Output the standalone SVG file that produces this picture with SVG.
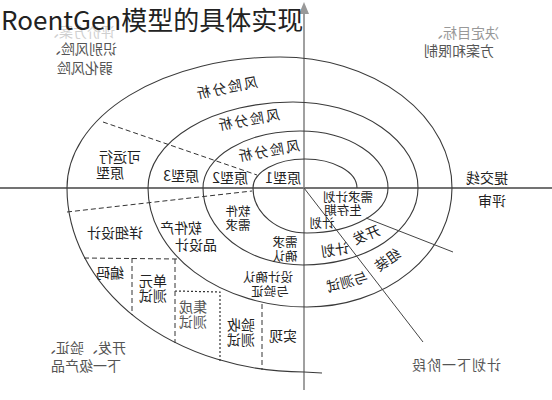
<svg xmlns="http://www.w3.org/2000/svg" width="552" height="400" viewBox="0 0 552 400">
<defs>
<style>
.t{font-family:"Noto Sans CJK SC","Noto Sans",sans-serif;font-size:14px;fill:#222;text-anchor:middle;dominant-baseline:central}
.s{font-size:12.5px}
.g{fill:#555}
.lg{fill:#999}
.sp{fill:none;stroke:#3a3a3a;stroke-width:1.1}
.ds{fill:none;stroke:#333;stroke-width:1;stroke-dasharray:5 3}
.dt{fill:none;stroke:#333;stroke-width:1.2;stroke-dasharray:2 2}
.ln{fill:none;stroke:#444;stroke-width:1}
</style>
</defs>
<rect width="552" height="400" fill="#fff"/>
<g id="connectors">
<path id="axis-h" d="M0 188 L552 188" stroke="#444" stroke-width="1.5" fill="none"/>
<path id="axis-v" d="M304 13 L304 390" stroke="#808080" stroke-width="1.5" fill="none"/>
<polygon points="304,2 299,14 309,14" fill="#999"/>
<path id="spiral" class="sp" d="M357 188 A52 29 0 0 0 305 159 A52 29 0 0 0 253 188 A54 45 0 0 0 307 233 A81 45 0 0 0 388 188 A88 57 0 0 0 300 131 A97 57 0 0 0 203 188 A100 77 0 0 0 303 265 A115 77 0 0 0 418 188 A125 86 0 0 0 293 102 A145 86 0 0 0 148 188 A159 119 0 0 0 307 307 A145 119 0 0 0 452 188 A172 131 0 0 0 280 57 A213 131 0 0 0 67 188 A237 184 0 0 0 304 372 L322 373"/>
<path class="ds" d="M103 122 L257 175"/>
<path class="ds" d="M67 212 L252 191"/>
<path class="ds" d="M84 258 L177 259"/>
<path class="ds" d="M132 258 L132 315"/>
<path class="ds" d="M175 259 L175 343"/>
<path class="dt" d="M175 291 L220 292 L220 361"/>
<path class="ds" d="M262 304 L262 370"/>
<path class="ln" d="M304 188 L423 342"/>
<path class="ln" d="M366 218 L453 252"/>
</g>
<g id="n-evaluate"><text class="t" fill="#ccc" style="fill:#cfcfcf" transform="translate(80 31) scale(-1 1)">评价方案、</text></g>
<g id="title"><text x="1" y="30" font-family="'Noto Sans CJK SC','Noto Sans',sans-serif" font-size="26" fill="#222">RoentGen模型的具体实现</text></g>
<g id="n-identify"><text class="t g" transform="translate(82 48) scale(-1 1)">识别风险、</text><text class="t g" transform="translate(85 67) scale(-1 1)">弱化风险</text></g>
<g id="n-goal"><text class="t lg" transform="translate(464 32) scale(-1 1)">决定目标、</text><text class="t g" transform="translate(459 50) scale(-1 1)">方案和限制</text></g>
<g id="n-dev"><text class="t g" transform="translate(84 347) scale(-1 1)">开发、验证、</text><text class="t g" transform="translate(86 365) scale(-1 1)">下一级产品</text></g>
<g id="n-plan-next"><text class="t g" style="letter-spacing:1px" transform="translate(456 364) scale(-1 1)">计划下一阶段</text></g>
<g id="n-submit"><text class="t" transform="translate(487 177) scale(-1 1)">提交线</text></g>
<g id="n-review"><text class="t" transform="translate(492 200) scale(-1 1)">评审</text></g>
<g id="n-risk1"><text class="t" style="letter-spacing:2px" transform="translate(226 87) rotate(-11) scale(-1 1)">风险分析</text></g>
<g id="n-risk2"><text class="t" style="letter-spacing:2px" transform="translate(248 119) rotate(-10) scale(-1 1)">风险分析</text></g>
<g id="n-risk3"><text class="t" style="letter-spacing:2px" transform="translate(268 150) rotate(-10) scale(-1 1)">风险分析</text></g>
<g id="n-proto1"><text class="t" transform="translate(283 177) scale(-1 1)">原型1</text></g>
<g id="n-proto2"><text class="t" transform="translate(230 177) scale(-1 1)">原型2</text></g>
<g id="n-proto3"><text class="t" transform="translate(181 175) scale(-1 1)">原型3</text></g>
<g id="n-op-proto"><text class="t" transform="translate(120 156) scale(-1 1)">可运行</text><text class="t" transform="translate(110 172) scale(-1 1)">原型</text></g>
<g id="n-req-plan"><text class="t s" transform="translate(348 196) scale(-1 1)">需求计划</text><text class="t s" transform="translate(343 209) scale(-1 1)">生存期</text><text class="t s" transform="translate(322 222) scale(-1 1)">计划</text></g>
<g id="n-dev-plan"><text class="t" transform="translate(366 234) rotate(-22) scale(-1 1)">开发</text><text class="t" transform="translate(335 249) rotate(-8) scale(-1 1)">计划</text></g>
<g id="n-integ"><text class="t" transform="translate(387 259) rotate(-35) scale(-1 1)">组装</text><text class="t" transform="translate(347 281) rotate(-15) scale(-1 1)">与测试</text></g>
<g id="n-sw-req"><text class="t s" transform="translate(238 210) scale(-1 1)">软件</text><text class="t s" transform="translate(238 224) scale(-1 1)">需求</text></g>
<g id="n-req-conf"><text class="t s" transform="translate(285 241) scale(-1 1)">需求</text><text class="t s" transform="translate(285 255) scale(-1 1)">确认</text></g>
<g id="n-prod-design"><text class="t" transform="translate(181 227) scale(-1 1)">软件产</text><text class="t" transform="translate(196 244) scale(-1 1)">品设计</text></g>
<g id="n-design-conf"><text class="t s" transform="translate(268 276) scale(-1 1)">设计确认</text><text class="t s" transform="translate(270 290) scale(-1 1)">与验证</text></g>
<g id="n-detail"><text class="t" transform="translate(115 232) scale(-1 1)">详细设计</text></g>
<g id="n-code"><text class="t" transform="translate(110 272) scale(-1 1)">编码</text></g>
<g id="n-unit"><text class="t" transform="translate(153 280) scale(-1 1)">单元</text><text class="t" transform="translate(153 295) scale(-1 1)">测试</text></g>
<g id="n-integ-test"><text class="t g" transform="translate(193 306) scale(-1 1)">集成</text><text class="t g" transform="translate(193 321) scale(-1 1)">测试</text></g>
<g id="n-accept"><text class="t" transform="translate(241 324) scale(-1 1)">验收</text><text class="t" transform="translate(241 339) scale(-1 1)">测试</text></g>
<g id="n-impl"><text class="t" transform="translate(283 335) scale(-1 1)">实现</text></g>
</svg>
